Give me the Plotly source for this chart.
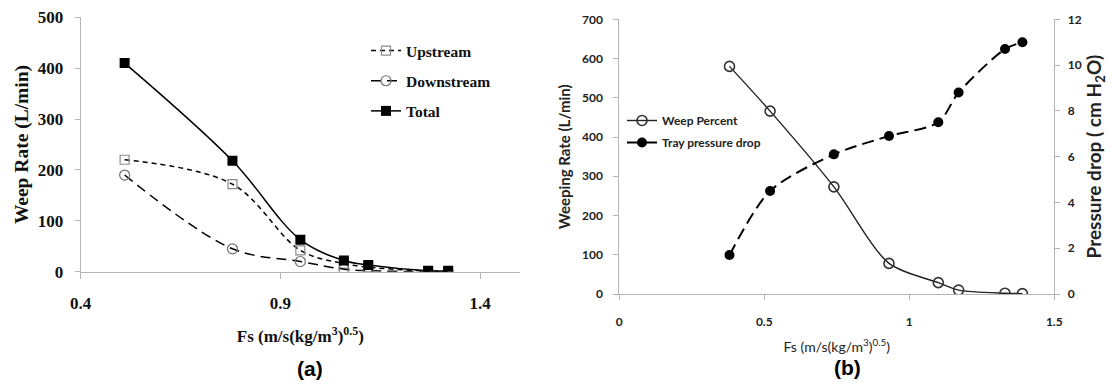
import plotly.graph_objects as go

# ---- Panel (a) data ----
fs_a = [0.51, 0.78, 0.95, 1.059, 1.12, 1.27, 1.32]
upstream = [220, 172, 42, 16, 9, 1, 1]
downstream = [190, 45, 20, 5, 2, 0, 0]
total = [410, 218, 63, 22, 13, 2, 2]

# ---- Panel (b) data ----
fs_b = [0.38, 0.52, 0.74, 0.93, 1.10, 1.17, 1.33, 1.39]
weep_percent = [580, 466, 273, 78, 29, 10, 2, 1]
tray_dp = [1.7, 4.5, 6.1, 6.9, 7.5, 8.8, 10.7, 11.0]

W, H = 1112, 385
SERIF = "Liberation Serif"
SANS = "Lato"

def px_x(p):
    return p / W

def px_y(p):
    return 1 - p / H

fig = go.Figure()

fig.add_trace(go.Scatter(
    x=fs_a, y=upstream, name="Upstream", mode="lines+markers",
    line=dict(color="black", width=1.5, dash="5px,4px", shape="spline", smoothing=1),
    marker=dict(symbol="square-open", size=9, color="#8a8a8a", line=dict(width=1.2)),
    xaxis="x", yaxis="y", legend="legend", legendgroup="u"))
fig.add_trace(go.Scatter(
    x=fs_a, y=downstream, name="Downstream", mode="lines+markers",
    line=dict(color="black", width=1.5, dash="10px,6px", shape="spline", smoothing=1),
    marker=dict(symbol="circle-open", size=10, color="#707070", line=dict(width=1.2)),
    xaxis="x", yaxis="y", legend="legend", legendgroup="d"))
fig.add_trace(go.Scatter(
    x=fs_a, y=total, name="Total", mode="lines+markers",
    line=dict(color="black", width=1.5, shape="spline", smoothing=1),
    marker=dict(symbol="square", size=10, color="black"),
    xaxis="x", yaxis="y", legend="legend", legendgroup="t"))

fig.add_trace(go.Scatter(
    x=fs_b, y=weep_percent, name="Weep Percent", mode="lines+markers",
    line=dict(color="#222222", width=1.4, shape="spline", smoothing=0.8),
    marker=dict(symbol="circle-open", size=10, color="#333333", line=dict(width=1.6)),
    xaxis="x2", yaxis="y2", legend="legend2", legendgroup="w"))
fig.add_trace(go.Scatter(
    x=fs_b, y=tray_dp, name="Tray pressure drop", mode="lines+markers",
    line=dict(color="black", width=2, dash="12px,6px", shape="spline", smoothing=0.8),
    marker=dict(symbol="circle", size=10, color="black"),
    xaxis="x2", yaxis="y3", legend="legend2", legendgroup="p"))

axis_gray = "#b5b5b5"
tick_a = dict(family=SERIF, size=17, color="#111111", weight="bold")
tick_b = dict(family=SANS, size=12, color="#222222", weight="bold")

fig.update_layout(
    width=W, height=H, autosize=False,
    margin=dict(l=0, r=0, t=0, b=0),
    paper_bgcolor="white", plot_bgcolor="white",
    showlegend=True,
    xaxis=dict(domain=[px_x(80.7), px_x(520)], range=[0.4, 1.5], automargin=False,
               tickvals=[0.4, 0.9, 1.4], ticktext=["0.4", "0.9", "1.4"],
               showgrid=False, zeroline=False, showline=True, linecolor=axis_gray,
               ticks="outside", ticklen=6, tickcolor=axis_gray, ticklabelstandoff=10,
               tickfont=tick_a, anchor="y",
               title=dict(text="Fs (m/s(kg/m<sup>3</sup>)<sup>0.5</sup>)",
                          font=dict(family=SERIF, size=17, color="#111111", weight="bold"),
                          standoff=18)),
    yaxis=dict(domain=[px_y(271.7), px_y(17.3)], range=[0, 500], automargin=False,
               tickvals=[0, 100, 200, 300, 400, 500],
               showgrid=False, zeroline=False, showline=True, linecolor=axis_gray,
               ticks="outside", ticklen=5, tickcolor=axis_gray, ticklabelstandoff=8,
               tickfont=tick_a, anchor="x",
               title=dict(text="Weep Rate (L/min)",
                          font=dict(family=SERIF, size=19.5, color="#111111", weight="bold"),
                          standoff=3)),
    xaxis2=dict(domain=[px_x(619.3), px_x(1054.3)], range=[0, 1.5], automargin=False,
                tickvals=[0, 0.5, 1, 1.5], ticktext=["0", "0.5", "1", "1.5"],
                showgrid=False, zeroline=False, showline=True, linecolor=axis_gray,
                ticks="outside", ticklen=5, tickcolor=axis_gray, ticklabelstandoff=12,
                tickfont=tick_b, anchor="y2",
                title=dict(text="Fs (m/s(kg/m<sup>3</sup>)<sup>0.5</sup>)",
                           font=dict(family=SANS, size=14, color="#222222"),
                           standoff=13)),
    yaxis2=dict(domain=[px_y(294), px_y(19.3)], range=[0, 700], automargin=False,
                tickvals=[0, 100, 200, 300, 400, 500, 600, 700],
                showgrid=False, zeroline=False, showline=True, linecolor=axis_gray,
                ticks="outside", ticklen=5, tickcolor=axis_gray, ticklabelstandoff=8,
                tickfont=tick_b, anchor="x2",
                title=dict(text="Weeping Rate (L/min)",
                           font=dict(family=SANS, size=15, color="#222222", weight="bold"),
                           standoff=7)),
    yaxis3=dict(domain=[px_y(294), px_y(19.3)], range=[0, 12], overlaying="y2", side="right",
                automargin=False,
                tickvals=[0, 2, 4, 6, 8, 10, 12],
                showgrid=False, zeroline=False, showline=True, linecolor=axis_gray,
                ticks="outside", ticklen=5, tickcolor=axis_gray, ticklabelstandoff=5,
                tickfont=tick_b, anchor="x2",
                title=dict(text="Pressure drop ( cm H<sub>2</sub>O)",
                           font=dict(family=SANS, size=19, color="#222222", weight="bold"),
                           standoff=4)),
    legend=dict(x=px_x(366), y=px_y(34), xanchor="left", yanchor="top",
                bgcolor="rgba(0,0,0,0)", borderwidth=0,
                traceorder="grouped", tracegroupgap=7,
                font=dict(family=SERIF, size=15.5, color="#111111", weight="bold")),
    legend2=dict(x=px_x(622), y=px_y(106), xanchor="left", yanchor="top",
                 bgcolor="rgba(0,0,0,0)", borderwidth=0,
                 traceorder="grouped", tracegroupgap=3,
                 font=dict(family=SANS, size=12, color="#222222", weight="bold")),
    annotations=[
        dict(text="<b>(a)</b>", x=px_x(310), y=px_y(368), xref="paper", yref="paper",
             xanchor="center", yanchor="middle", showarrow=False,
             font=dict(family="Liberation Sans", size=21, color="black")),
        dict(text="<b>(b)</b>", x=px_x(847), y=px_y(367), xref="paper", yref="paper",
             xanchor="center", yanchor="middle", showarrow=False,
             font=dict(family="Liberation Sans", size=21, color="black")),
    ],
)

fig.write_html("out.html", config={"displayModeBar": False},
               post_script="document.body.style.margin='0';")
